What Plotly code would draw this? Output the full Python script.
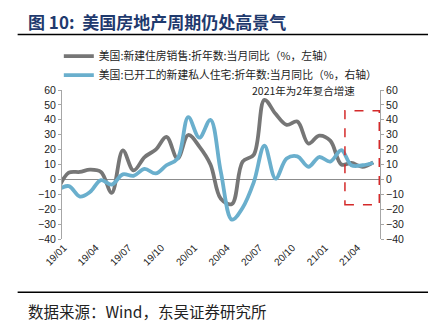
import plotly.graph_objects as go

months = ["2018-12", "2019-01", "2019-02", "2019-03", "2019-04", "2019-05", "2019-06",
          "2019-07", "2019-08", "2019-09", "2019-10", "2019-11", "2019-12",
          "2020-01", "2020-02", "2020-03", "2020-04", "2020-05", "2020-06",
          "2020-07", "2020-08", "2020-09", "2020-10", "2020-11", "2020-12",
          "2021-01", "2021-02", "2021-03", "2021-04", "2021-05"]
new_home_sales = [-7, 4.5, 5, 6.5, 5, -9, 19.5, 6, 15, 20, 28.5, 14, 29.8,
                  22, 10, -13, -16.5, 12, 16.5, 53.4, 44, 36.6, 38.8, 24, 29.4,
                  26, 10, 11, 8.5, 11.5]
housing_starts = [-7, -4.5, -11.5, -8.5, -0.5, -3.5, 3.4, 2.4, 7, 4, 9.5, 14, 41.8,
                  28, 40, 5, -27, -19, -2, 22.6, 0.5, 14, 15.5, 8.5, 15,
                  12, 19.7, 9.5, 9.5, 11]
name_sales = "美国:新建住房销售:折年数:当月同比（%，左轴）"
name_starts = "美国:已开工的新建私人住宅:折年数:当月同比（%，右轴）"
y_ticks = list(range(-40, 61, 10))

xdates = [m + "-15" for m in months]

CJK = "Noto Sans CJK SC"
GRAY = "#767676"
BLUE = "#6AAFCD"
AX = "#A6A6A6"

fig = go.Figure()
fig.add_trace(go.Scatter(x=xdates, y=new_home_sales, name=name_sales, mode="lines",
                         line=dict(color=GRAY, width=3.8, shape="spline", smoothing=1.0)))
fig.add_trace(go.Scatter(x=xdates, y=housing_starts, name=name_starts, mode="lines",
                         yaxis="y2",
                         line=dict(color=BLUE, width=3.8, shape="spline", smoothing=1.0)))

axis_y = dict(range=[-40, 60], tickvals=y_ticks, ticks="outside", ticklen=3,
              tickcolor=AX, showline=True, linecolor=AX, linewidth=1,
              showgrid=False, tickfont=dict(family="Liberation Sans", size=10.5, color="#222"))

fig.update_layout(
    width=445, height=323,
    margin=dict(l=62, r=65, t=90, b=84),
    plot_bgcolor="white", paper_bgcolor="white",
    showlegend=True,
    legend=dict(x=-0.01, y=1.325, xanchor="left", yanchor="top",
                font=dict(family=CJK, size=10.8, color="#222"),
                bgcolor="rgba(0,0,0,0)", tracegroupgap=0),
    xaxis=dict(type="date", range=["2018-12-27", "2021-06-03"],
               tick0="2019-01-01", dtick="M3", tickformat="%y/%m", tickangle=-45,
               ticks="", showline=False, showgrid=False, zeroline=False,
               tickfont=dict(family="Liberation Sans", size=10, color="#222")),
    xaxis2=dict(type="date", overlaying="x", matches="x", anchor="free", position=0.4,
                tick0="2019-01-01", dtick="M3", ticks="outside", ticklen=3,
                tickcolor="#8C8C8C", showticklabels=False, showline=False,
                showgrid=False, zeroline=False),
    yaxis=dict(**axis_y, zeroline=True, zerolinecolor="#8C8C8C", zerolinewidth=1.2),
    yaxis2=dict(**axis_y, overlaying="y", side="right", zeroline=False),
)

# dashed highlight box
fig.add_shape(type="rect", xref="x", yref="y", x0="2021-02-25", x1="2021-06-01",
              y0=-17, y1=46, line=dict(color="#D42A2A", width=1.5, dash="dash"))

# header / footer rules
fig.add_shape(type="line", xref="paper", yref="paper", x0=-0.1395, x1=1.151,
              y0=1.372, y1=1.372, line=dict(color="black", width=1.5))
fig.add_shape(type="line", xref="paper", yref="paper", x0=-0.1395, x1=1.151,
              y0=-0.357, y1=-0.357, line=dict(color="black", width=1.5))

fig.add_annotation(text="<b>图 10:  美国房地产周期仍处高景气</b>", xref="paper", yref="paper",
                   x=-0.113, y=1.459, xanchor="left", yanchor="middle", showarrow=False,
                   font=dict(family=CJK, size=17, color="#1F3A6E"))
fig.add_annotation(text="2021年为2年复合增速", xref="paper", yref="paper",
                   x=0.759, y=1.0, xanchor="center", yanchor="middle", showarrow=False,
                   font=dict(family=CJK, size=10.5, color="#222"))
fig.add_annotation(text="数据来源：Wind，东吴证券研究所", xref="paper", yref="paper",
                   x=-0.113, y=-0.48, xanchor="left", yanchor="middle", showarrow=False,
                   font=dict(family=CJK, size=15.5, color="#222"))

fig.write_html("out.html")
